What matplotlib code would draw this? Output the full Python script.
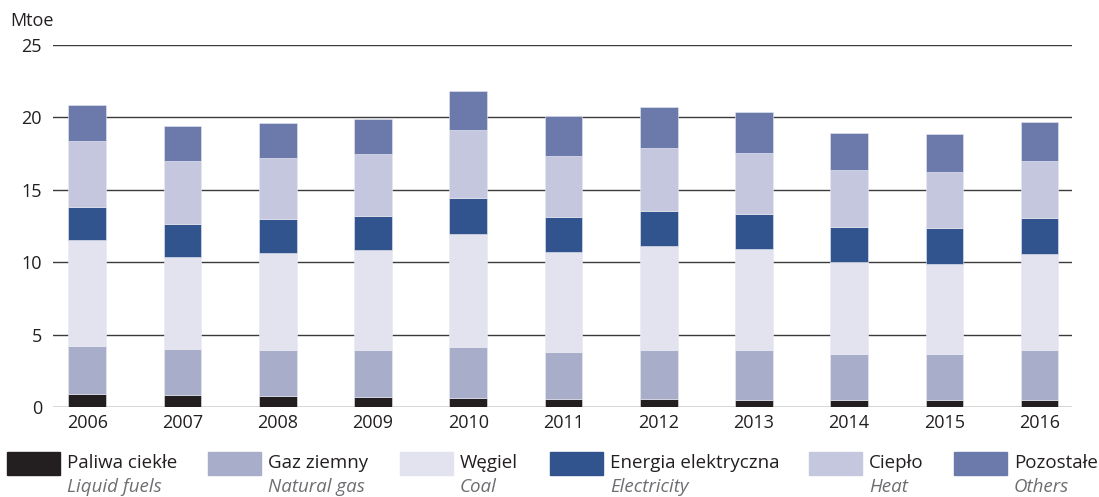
import matplotlib
matplotlib.use('Agg')
import matplotlib.pyplot as plt
import numpy as np

plt.rcParams['font.family'] = ['Open Sans', 'DejaVu Sans']

years = ['2006', '2007', '2008', '2009', '2010', '2011', '2012', '2013', '2014', '2015', '2016']
liquid = [0.90, 0.86, 0.76, 0.71, 0.62, 0.57, 0.55, 0.46, 0.51, 0.46, 0.51]
gas = [3.34, 3.17, 3.18, 3.23, 3.54, 3.25, 3.41, 3.46, 3.13, 3.18, 3.45]
coal = [7.26, 6.34, 6.68, 6.90, 7.81, 6.86, 7.18, 6.96, 6.38, 6.26, 6.64]
elec = [2.28, 2.26, 2.33, 2.37, 2.46, 2.44, 2.42, 2.42, 2.40, 2.43, 2.46]
heat = [4.58, 4.33, 4.22, 4.28, 4.67, 4.19, 4.33, 4.23, 3.92, 3.90, 3.94]
others = [2.49, 2.43, 2.46, 2.42, 2.70, 2.76, 2.83, 2.82, 2.55, 2.60, 2.70]

series = [liquid, gas, coal, elec, heat, others]
labels_pl = ['Paliwa ciekłe', 'Gaz ziemny', 'Węgiel', 'Energia elektryczna', 'Ciepło', 'Pozostałe']
labels_en = ['Liquid fuels', 'Natural gas', 'Coal', 'Electricity', 'Heat', 'Others']
colors = ['#231f20', '#a8adca', '#e2e3ee', '#32548e', '#c4c7dd', '#6b7aab']

fig = plt.figure(figsize=(10.99, 4.97), dpi=100)
ax = fig.add_axes([53/1099, 1-407/497, (1072-53)/1099, (407-45)/497])

x = np.arange(len(years))
bottom = np.zeros(len(years))
for vals, c in zip(series, colors):
    ax.bar(x, vals, width=0.396, bottom=bottom, color=c, edgecolor='#e8e9f2', linewidth=0.4, zorder=3)
    bottom += np.array(vals)

ax.set_ylim(0, 25)
ax.set_xlim(-0.36, 10.34)
ax.set_yticks([0, 5, 10, 15, 20, 25])
ax.set_xticks(x)
ax.set_xticklabels(years)
ax.yaxis.grid(True, color='#3a3a3a', linewidth=1.0, zorder=0)
ax.set_axisbelow(True)
for s in ax.spines.values():
    s.set_visible(False)
ax.tick_params(length=0, labelsize=13, colors='#231f20', pad=8)
ax.tick_params(axis='x', pad=5)

fig.text(10/1099, 1-21/497, 'Mtoe', fontsize=13, color='#231f20', va='center', ha='left')

# legend: patch + Polish label + English italic label
patch_x = [7, 208, 400, 550, 809, 954]
for px, c, lp, le in zip(patch_x, colors, labels_pl, labels_en):
    fig.patches.append(plt.Rectangle((px/1099, 1-475/497), 53/1099, 23/497,
                                     transform=fig.transFigure, color=c, figure=fig))
    fig.text((px+60)/1099, 1-463/497, lp, fontsize=13.5, color='#231f20', va='center', ha='left')
    fig.text((px+60)/1099, 1-487/497, le, fontsize=13.5, color='#6d6e71', style='italic', va='center', ha='left')

fig.savefig('out.png', dpi=100)
